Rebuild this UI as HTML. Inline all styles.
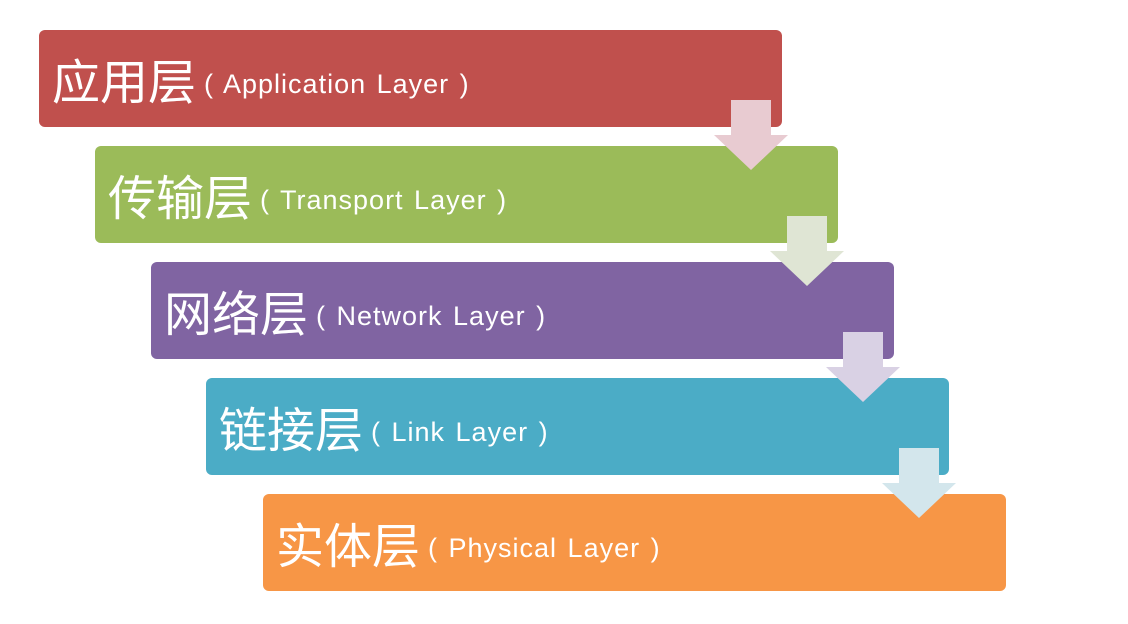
<!DOCTYPE html>
<html><head><meta charset="utf-8"><style>
body{margin:0;width:1128px;height:624px;background:#fff;position:relative;overflow:hidden}
.b{position:absolute;width:743px;height:97px;border-radius:6px;color:#fff;box-sizing:border-box;padding-left:13px;display:flex;align-items:center;font-family:"Liberation Sans","Noto Sans CJK SC",sans-serif}
.c{font-size:48px;margin-top:-2px}
.e{font-size:27px;margin-left:8px;margin-top:12px;letter-spacing:1px;word-spacing:2px}
svg{position:absolute;left:0;top:0}
</style></head><body>
<div class="b" style="left:39px;top:30px;background:#c0504d"><span class="c">应用层</span><span class="e">( Application Layer )</span></div>
<div class="b" style="left:95px;top:146px;background:#9bbb59"><span class="c">传输层</span><span class="e">( Transport Layer )</span></div>
<div class="b" style="left:151px;top:262px;background:#8064a2"><span class="c">网络层</span><span class="e">( Network Layer )</span></div>
<div class="b" style="left:206px;top:378px;background:#4bacc6"><span class="c">链接层</span><span class="e">( Link Layer )</span></div>
<div class="b" style="left:263px;top:494px;background:#f79646"><span class="c">实体层</span><span class="e">( Physical Layer )</span></div>
<svg width="1128" height="624">
<g transform="translate(0,0)"><polygon points="731,100 771,100 771,135 788,135 751,170 714,135 731,135" fill="#e8cbd1"/></g>
<g transform="translate(56,116)"><polygon points="731,100 771,100 771,135 788,135 751,170 714,135 731,135" fill="#dfe5d4"/></g>
<g transform="translate(112,232)"><polygon points="731,100 771,100 771,135 788,135 751,170 714,135 731,135" fill="#d9d1e4"/></g>
<g transform="translate(168,348)"><polygon points="731,100 771,100 771,135 788,135 751,170 714,135 731,135" fill="#d3e6ec"/></g>
</svg>
</body></html>
